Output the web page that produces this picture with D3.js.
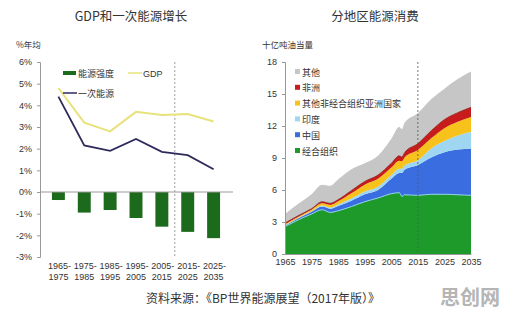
<!DOCTYPE html>
<html>
<head>
<meta charset="utf-8">
<script src="https://cdn.jsdelivr.net/npm/d3@7"></script>
<style>
  body { margin: 0; background: #fff; }
  svg { display: block; }
  text { font-family: "Liberation Sans", "Noto Sans CJK SC", sans-serif; fill: #333; }
  .cjk { font-family: "Noto Sans CJK SC", sans-serif; }
</style>
</head>
<body>
<svg id="vis" width="506" height="315"></svg>
<script>
// left chart data
var periods = ["1965-1975", "1975-1985", "1985-1995", "1995-2005", "2005-2015", "2015-2025", "2025-2035"]
var intensity = [-0.37, -0.95, -0.83, -1.2, -1.6, -1.84, -2.13]
var gdp = [4.8, 3.2, 2.8, 3.7, 3.55, 3.6, 3.25]
var primary = [4.4, 2.15, 1.9, 2.45, 1.85, 1.7, 1.05]
var leftTicks = [-3, -2, -1, 0, 1, 2, 3, 4, 5, 6]

// right chart data (billion toe)
var years = [1965, 1970, 1975, 1979, 1982, 1985, 1990, 1995, 2000, 2005, 2008, 2009, 2010, 2015, 2020, 2025, 2030, 2035]
var oecd = [2.56, 3.2, 3.75, 4.15, 3.9, 4.05, 4.45, 4.9, 5.25, 5.65, 5.75, 5.4, 5.55, 5.5, 5.6, 5.6, 5.55, 5.5]
var china = [0.09, 0.15, 0.2, 0.3, 0.35, 0.45, 0.55, 0.7, 0.75, 1.4, 1.85, 2.2, 2.35, 2.85, 3.45, 3.95, 4.25, 4.4]
var india = [0.05, 0.05, 0.05, 0.1, 0.1, 0.15, 0.2, 0.25, 0.3, 0.35, 0.4, 0.4, 0.4, 0.45, 0.85, 1.05, 1.3, 1.55]
var otherAsia = [0.1, 0.1, 0.15, 0.2, 0.25, 0.3, 0.5, 0.65, 0.75, 0.7, 0.75, 0.7, 0.75, 0.95, 0.95, 1.2, 1.3, 1.4]
var africa = [0.1, 0.1, 0.1, 0.15, 0.15, 0.15, 0.25, 0.3, 0.35, 0.4, 0.45, 0.4, 0.45, 0.6, 0.7, 0.8, 0.85, 0.9]
var others = [0.85, 1.1, 1.35, 1.6, 1.65, 1.9, 2.0, 1.7, 1.8, 2.3, 2.7, 2.6, 2.8, 2.85, 2.95, 2.9, 3.15, 3.35]
var regionNames = ["经合组织", "中国", "印度", "其他非经合组织亚洲国家", "非洲", "其他"]
var regionColors = ["#1e9a2a", "#3a6ee0", "#9fd6f2", "#f7c21c", "#c81c1c", "#c6c6c6"]
var rightTicks = [0, 3, 6, 9, 12, 15, 18]
var yearTicks = [1965, 1975, 1985, 1995, 2005, 2015, 2025, 2035]

var svg = d3.select("#vis")

// ---------- left chart ----------
var x1 = d3.scaleBand().domain(periods).range([39, 233]).padding(0.5)
var y1 = d3.scaleLinear().domain([-3, 6]).range([257, 62])

svg.append("text").attr("class", "cjk").attr("x", 131).attr("y", 21)
    .style("text-anchor", "middle").style("font-size", "12.5px").text("GDP和一次能源增长")
svg.append("text").attr("class", "cjk").attr("x", 16).attr("y", 48)
    .style("font-size", "8.5px").text("%年均")

var yAx1 = svg.append("g").attr("transform", "translate(40,0)")
    .call(d3.axisLeft(y1).tickValues(leftTicks).tickSize(3).tickFormat(d => d + "%"))
yAx1.select(".domain").attr("stroke", "#999")
yAx1.selectAll(".tick line").attr("stroke", "#999")
yAx1.selectAll("text").style("font-size", "9px").attr("fill", "#333").attr("x", -8)

// dashed separator
svg.append("line").attr("x1", x1("2015-2025") - x1.step() * 0.25).attr("x2", x1("2015-2025") - x1.step() * 0.25)
    .attr("y1", y1(6)).attr("y2", y1(-3))
    .attr("stroke", "#888").attr("stroke-width", 0.8).attr("stroke-dasharray", "2,2")

svg.append("g").selectAll("rect").data(periods).enter().append("rect")
    .attr("x", d => x1(d))
    .attr("y", y1(0))
    .attr("width", x1.bandwidth())
    .attr("height", (d, i) => y1(intensity[i]) - y1(0))
    .attr("fill", "#1c6a1c")

svg.append("line").attr("x1", 40).attr("x2", 233).attr("y1", y1(0)).attr("y2", y1(0))
    .attr("stroke", "#999")

var line1 = d3.line().x((d, i) => x1(periods[i]) + x1.bandwidth() / 2).y(d => y1(d))
svg.append("path").attr("d", line1(gdp)).attr("fill", "none").attr("stroke", "#e8e27c").attr("stroke-width", 2)
svg.append("path").attr("d", line1(primary)).attr("fill", "none").attr("stroke", "#2e2b5c").attr("stroke-width", 1.8)

// period labels
var xl = svg.append("g")
periods.forEach(function (p, i) {
    var parts = p.split("-")
    var cx = x1(p) + x1.bandwidth() / 2
    xl.append("text").attr("x", cx + 1).attr("y", 269).style("text-anchor", "middle").style("font-size", "9px").text(parts[0] + "-")
    xl.append("text").attr("x", cx).attr("y", 280).style("text-anchor", "middle").style("font-size", "9px").text(parts[1])
})

// legend
svg.append("rect").attr("x", 63).attr("y", 71).attr("width", 13).attr("height", 4).attr("fill", "#1c6a1c")
svg.append("text").attr("class", "cjk").attr("x", 78).attr("y", 76.5).style("font-size", "9px").text("能源强度")
svg.append("line").attr("x1", 128).attr("x2", 142).attr("y1", 73).attr("y2", 73).attr("stroke", "#e8e27c").attr("stroke-width", 1.5)
svg.append("text").attr("x", 143).attr("y", 76.5).style("font-size", "9px").text("GDP")
svg.append("line").attr("x1", 63).attr("x2", 77).attr("y1", 93).attr("y2", 93).attr("stroke", "#2e2b5c").attr("stroke-width", 1.5)
svg.append("text").attr("class", "cjk").attr("x", 78).attr("y", 96.5).style("font-size", "9px").text("一次能源")

// ---------- right chart ----------
var x2 = d3.scaleLinear().domain([1965, 2035]).range([285, 471])
var y2 = d3.scaleLinear().domain([0, 18]).range([254, 62])

svg.append("text").attr("class", "cjk").attr("x", 375).attr("y", 21)
    .style("text-anchor", "middle").style("font-size", "12.5px").text("分地区能源消费")
svg.append("text").attr("class", "cjk").attr("x", 262).attr("y", 48)
    .style("font-size", "8.5px").text("十亿吨油当量")

var series = [oecd, china, india, otherAsia, africa, others]
var table = years.map(function (yr, i) {
    var row = { year: yr }
    series.forEach(function (s, k) { row["s" + k] = s[i] })
    return row
})
var stack = d3.stack().keys(series.map((s, k) => "s" + k))
var layers = stack(table)

var area = d3.area()
    .x(d => x2(d.data.year))
    .y0(d => y2(d[0]))
    .y1(d => y2(d[1]))
    .curve(d3.curveMonotoneX)

svg.append("g").selectAll("path").data(layers).enter().append("path")
    .attr("d", area)
    .attr("fill", (d, i) => regionColors[i])

// light edge on top of OECD band
var topLine = d3.line().x(d => x2(d.data.year)).y(d => y2(d[1])).curve(d3.curveMonotoneX)
svg.append("path").attr("d", topLine(layers[0])).attr("fill", "none").attr("stroke", "#8fd0e8").attr("stroke-width", 1)
// darker edge on africa band
svg.append("path").attr("d", topLine(layers[4])).attr("fill", "none").attr("stroke", "#8a1a10").attr("stroke-width", 0.8)

svg.append("line").attr("x1", x2(2015)).attr("x2", x2(2015)).attr("y1", 62).attr("y2", 254)
    .attr("stroke", "#555").attr("stroke-width", 0.8).attr("stroke-dasharray", "2,2")

var yAx2 = svg.append("g").attr("transform", "translate(285,0)")
    .call(d3.axisLeft(y2).tickValues(rightTicks).tickSize(3))
yAx2.select(".domain").attr("stroke", "#999")
yAx2.selectAll(".tick line").attr("stroke", "#999")
yAx2.selectAll("text").style("font-size", "9px").attr("fill", "#333").attr("x", -8)

var xAx2 = svg.append("g").attr("transform", "translate(0,254)")
    .call(d3.axisBottom(x2).tickValues(yearTicks).tickSize(0).tickFormat(d3.format("d")))
xAx2.select(".domain").attr("stroke", "#999")
xAx2.selectAll("text").style("font-size", "9px").attr("fill", "#333").attr("dy", "0.9em")

// right legend (top item first)
var legendOrder = [5, 4, 3, 2, 1, 0]
legendOrder.forEach(function (k, j) {
    var ly = 72 + j * 15.8
    svg.append("rect").attr("x", 295).attr("y", ly - 3).attr("width", 5).attr("height", 5).attr("fill", regionColors[k])
    svg.append("text").attr("class", "cjk").attr("x", 302).attr("y", ly + 3.5).style("font-size", "9px").text(regionNames[k])
})

// footer
svg.append("text").attr("class", "cjk").attr("x", 263).attr("y", 303)
    .style("text-anchor", "middle").style("font-size", "12px").attr("fill", "#333")
    .text("资料来源：《BP世界能源展望（2017年版）》")
svg.append("text").attr("class", "cjk").attr("x", 470).attr("y", 305)
    .style("text-anchor", "middle").style("font-size", "20px").style("font-weight", "bold")
    .attr("fill", "#b5b5b5").style("fill", "#b5b5b5").text("思创网")
</script>
</body>
</html>
